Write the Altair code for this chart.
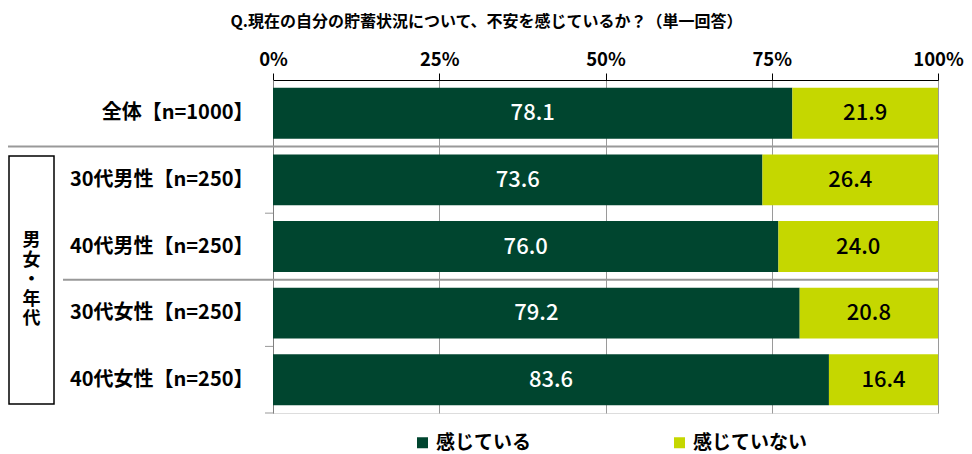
import altair as alt
import pandas as pd

categories = ["全体【n=1000】", "30代男性【n=250】", "40代男性【n=250】", "30代女性【n=250】", "40代女性【n=250】"]
series = ["感じている", "感じていない"]
feel = [78.1, 73.6, 76.0, 79.2, 83.6]
notfeel = [21.9, 26.4, 24.0, 20.8, 16.4]
tick_values = [0, 25, 50, 75, 100]
colors = ["#00452F", "#C5D700"]
text_colors = ["#FFFFFF", "#000000"]
title_text = "Q.現在の自分の貯蓄状況について、不安を感じているか？（単一回答）"
group_label = "男\n女\n・\n年\n代"

FONT = "Noto Sans CJK JP"
W, H = 665, 333

rows = []
for c, a, b in zip(categories, feel, notfeel):
    rows.append(dict(cat=c, series=series[0], start=0.0, end=a, value=a, mid=a / 2, tc=text_colors[0]))
    rows.append(dict(cat=c, series=series[1], start=a, end=a + b, value=b, mid=a + b / 2, tc=text_colors[1]))
df = pd.DataFrame(rows)

y_scale = alt.Scale(domain=categories, paddingInner=0, paddingOuter=0)
y_axis = alt.Axis(ticks=False, domainColor="#808080", labelFont=FONT, labelFontSize=20,
                  labelFontWeight="bold", labelColor="#000000", labelPadding=20, labelLimit=400,
                  grid=False)

def ydef(band=0.5):
    kw = dict(sort=categories, scale=y_scale, title=None, axis=y_axis)
    if band != 0.5:
        kw["bandPosition"] = band
    return alt.Y("cat:N", **kw)

x_axis = alt.Axis(orient="top", values=tick_values, labelExpr="datum.value + '%'", grid=True,
                  gridColor="#9A9A9A", domainColor="#000000", tickColor="#000000", tickSize=7,
                  labelPadding=4, labelFont=FONT, labelFontSize=18.5, labelFontWeight="bold",
                  labelColor="#000000", labelFlush=False, title=None)
x_scale = alt.Scale(domain=[0, 100], nice=False)

bars = alt.Chart(df).mark_bar(height={"band": 0.765}).encode(
    x=alt.X("start:Q", scale=x_scale, axis=x_axis),
    x2="end:Q",
    y=ydef(),
    color=alt.Color("series:N", scale=alt.Scale(domain=series, range=colors),
                    legend=alt.Legend(orient="none", legendX=140, legendY=353, direction="horizontal",
                                      title=None, symbolType="square", symbolSize=121, symbolStrokeWidth=0,
                                      labelFont=FONT, labelFontSize=19, labelFontWeight="bold",
                                      labelColor="#000000", columnPadding=138, labelOffset=4)),
)

labels = alt.Chart(df).mark_text(font=FONT, fontSize=22, fontWeight=500).encode(
    x=alt.X("mid:Q", scale=x_scale, axis=x_axis),
    y=ydef(),
    text=alt.Text("value:Q", format=".1f"),
    color=alt.Color("tc:N", scale=None),
)

sep1 = alt.Chart(pd.DataFrame({"cat": [categories[1]]})).mark_rule(color="#999999", strokeWidth=2).encode(
    y=ydef(0), x=alt.value(-265), x2=alt.value(W))
sep2 = alt.Chart(pd.DataFrame({"cat": [categories[3]]})).mark_rule(color="#999999", strokeWidth=2).encode(
    y=ydef(0), x=alt.value(-210), x2=alt.value(W))
lticks = alt.Chart(pd.DataFrame({"cat": [categories[2], categories[4]]})).mark_rule(color="#999999").encode(
    y=ydef(0), x=alt.value(-8), x2=alt.value(0))
bticks = alt.Chart(pd.DataFrame({"cat": [categories[4]]})).mark_rule(color="#999999").encode(
    y=ydef(1), x=alt.value(-8), x2=alt.value(0))

box = alt.Chart(pd.DataFrame({"a": [0]})).mark_rect(fillOpacity=0, stroke="#000000", strokeWidth=1.5).encode(
    x=alt.value(-264), x2=alt.value(-219), y=alt.value(76), y2=alt.value(324))
vtext = alt.Chart(pd.DataFrame({"t": [group_label]})).mark_text(
    lineBreak="\n", lineHeight=19.5, font=FONT, fontSize=18, fontWeight="bold", color="#000000",
    baseline="middle", align="center").encode(
    x=alt.value(-241.5), y=alt.value(161), text="t:N")

chart = alt.layer(bars, labels, sep1, sep2, lticks, bticks, box, vtext).properties(
    width=W, height=H,
    title=alt.TitleParams(title_text, font=FONT, fontSize=16, fontWeight="bold", color="#000000",
                          anchor="middle", dx=-119, offset=20),
    autosize=alt.AutoSizeParams(type="none"),
    padding={"left": 265, "top": 72, "right": 26, "bottom": 42},
).configure_view(stroke=None).configure(background="#FFFFFF")

chart.save("out.html", embed_options={"renderer": "svg", "actions": False})
